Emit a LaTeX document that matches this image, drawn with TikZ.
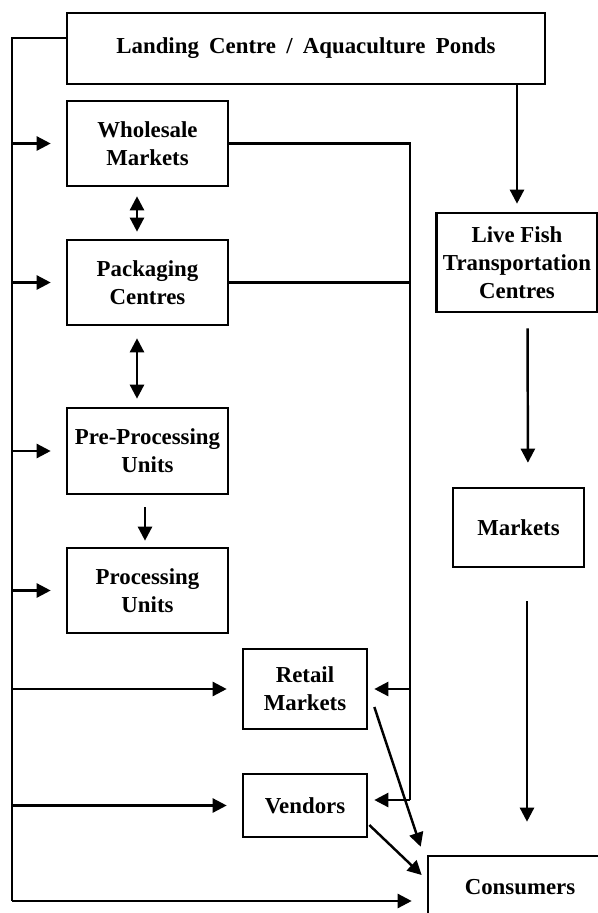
\documentclass[tikz,border=0pt]{standalone}
\usepackage{fontspec}
\setmainfont{Liberation Serif}
\usepackage{tikz}
\usetikzlibrary{arrows.meta}

\tikzset{
  box/.style={draw, line width=1.5pt, align=center, inner sep=0pt,
    font=\fontsize{13}{16}\selectfont\bfseries},
  flow/.style={line width=1.4pt, -{Triangle[length=8pt,width=8pt]}},
  twoway/.style={line width=1.4pt, {Triangle[length=8pt,width=8pt]}-{Triangle[length=8pt,width=8pt]}},
  link/.style={line width=1.4pt}
}

\begin{document}
\begin{tikzpicture}[x=0.02cm,y=-0.02cm]
    \clip (0,0) rectangle (598,913);
    \node[box, minimum width=9.56cm, minimum height=1.42cm] (landing) at (306,48.5) {\spaceskip=0.45em plus 0.1em Landing Centre / Aquaculture Ponds};
    \node[box, minimum width=3.22cm, minimum height=1.7cm] (wholesale) at (147.5,143.5) {Wholesale\\Markets};
    \node[box, minimum width=3.22cm, minimum height=1.7cm] (packaging) at (147.5,282.5) {Packaging\\Centres};
    \node[box, minimum width=3.22cm, minimum height=1.72cm] (preproc) at (147.5,451) {Pre-Processing\\Units};
    \node[box, minimum width=3.22cm, minimum height=1.7cm] (proc) at (147.5,590.5) {Processing\\Units};
    \node[box, minimum width=2.48cm, minimum height=1.6cm] (retail) at (305,689) {Retail\\Markets};
    \node[box, minimum width=2.48cm, minimum height=1.26cm] (vendors) at (305,805.5) {Vendors};
    \node[box, minimum width=3.22cm, minimum height=1.98cm] (livefish) at (517,262.5) {Live Fish\\Transportation\\Centres};
    \node[box, minimum width=2.62cm, minimum height=1.58cm] (markets) at (518.5,527.5) {Markets};
    \node[box, minimum width=3.68cm, minimum height=1.24cm] (consumers) at (520,887) {Consumers};

    \coordinate (trunktop) at (12,38);
    \coordinate (trunkend) at (12,901);
    \coordinate (sidetop) at (410,146);
    \coordinate (sideend) at (410,800);

    % left trunk
    \draw[link] (landing.west |- trunktop) -- (trunktop) -- (trunkend);
    \draw[flow, shorten >=0.3cm] (trunktop |- wholesale.west) -- (wholesale.west);
    \draw[flow, shorten >=0.3cm] (trunktop |- packaging.west) -- (packaging.west);
    \draw[flow, shorten >=0.3cm] (trunktop |- preproc.west) -- (preproc.west);
    \draw[flow, shorten >=0.3cm] (trunktop |- proc.west) -- (proc.west);
    \draw[flow, shorten >=0.3cm] (trunktop |- retail.west) -- (retail.west);
    \draw[flow, shorten >=0.3cm] (trunktop |- vendors.west) -- (vendors.west);
    \draw[flow, shorten >=0.3cm] (trunkend) -- (trunkend -| consumers.west);

    % chain on the left
    \draw[twoway, shorten <=0.18cm, shorten >=0.14cm] ([xshift=-0.21cm]wholesale.south) -- ([xshift=-0.21cm]packaging.north);
    \draw[twoway, shorten <=0.24cm, shorten >=0.16cm] ([xshift=-0.21cm]packaging.south) -- ([xshift=-0.21cm]preproc.north);
    \draw[flow, shorten <=0.24cm, shorten >=0.12cm] ([xshift=-0.05cm]preproc.south) -- ([xshift=-0.05cm]proc.north);

    % right collector
    \draw[link] (wholesale.east) -- (sidetop |- wholesale.east) -- (sideend);
    \draw[link] (packaging.east) -- (sidetop |- packaging.east);
    \draw[flow, shorten >=0.12cm] (sidetop |- retail.east) -- (retail.east);
    \draw[flow, shorten >=0.12cm] (sideend) -- (sideend -| vendors.east);

    % to consumers
    \draw[flow] ([xshift=0.12cm,yshift=-0.36cm]retail.east) -- ([xshift=-0.12cm,yshift=0.16cm]consumers.north west);
    \draw[flow] ([xshift=0.02cm,yshift=-0.39cm]vendors.east) -- ([xshift=-0.1cm,yshift=0.24cm]consumers.west);

    % live fish column
    \draw[flow, shorten >=0.16cm] (landing.south -| livefish.north) -- (livefish.north);
    \draw[flow, shorten <=0.3cm, shorten >=0.48cm] ([xshift=0.21cm]livefish.south) -- ([xshift=0.19cm]markets.north);
    \draw[flow, shorten <=0.66cm, shorten >=0.66cm] ([xshift=0.17cm]markets.south) -- ([xshift=0.17cm]markets.south |- consumers.north);
\end{tikzpicture}
\end{document}
